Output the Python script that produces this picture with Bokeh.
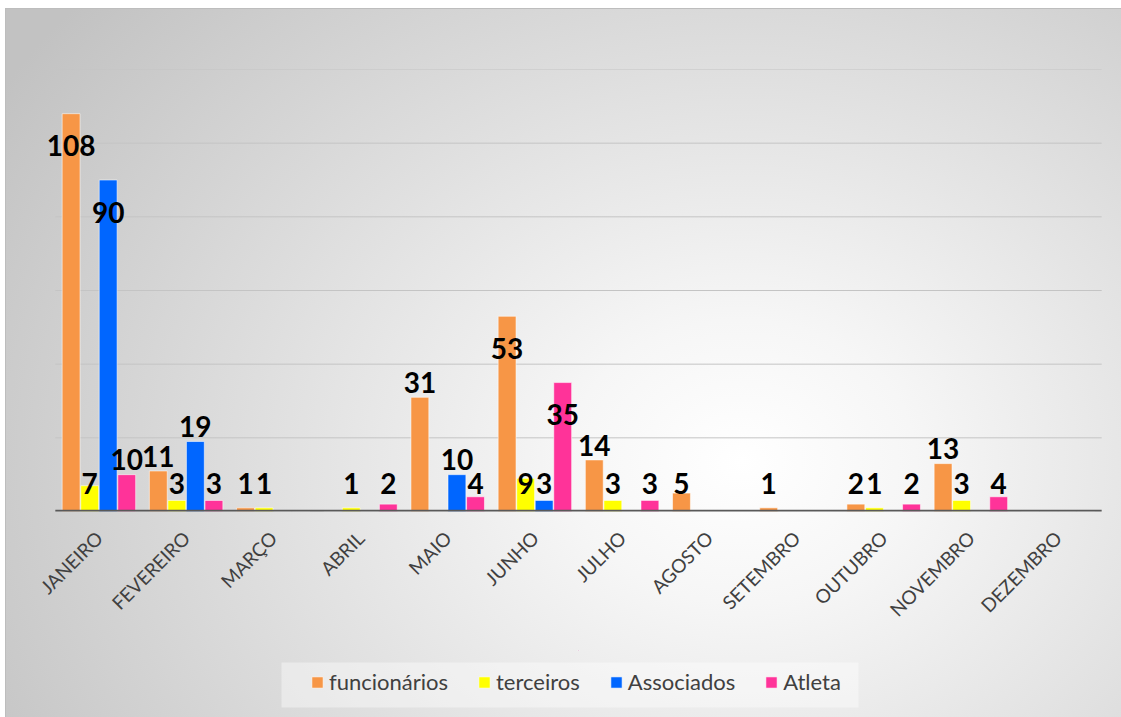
from bokeh.plotting import figure
from bokeh.layouts import column
from bokeh.models import (ColumnDataSource, FactorRange, Range1d,
                          Legend, LegendItem, InlineStyleSheet, LabelSet)
from bokeh.transform import dodge
from bokeh.core.properties import value
from bokeh.embed import file_html
from bokeh.resources import INLINE
import math

months = ["JANEIRO", "FEVEREIRO", "MARÇO", "ABRIL", "MAIO", "JUNHO",
          "JULHO", "AGOSTO", "SETEMBRO", "OUTUBRO", "NOVEMBRO", "DEZEMBRO"]
funcionarios = [108, 11, 1, 0, 31, 53, 14, 5, 1, 2, 13, 0]
terceiros = [7, 3, 1, 1, 0, 9, 3, 0, 0, 1, 3, 0]
associados = [90, 19, 0, 0, 10, 3, 0, 0, 0, 0, 0, 0]
atleta = [10, 3, 0, 2, 4, 35, 3, 0, 0, 2, 4, 0]
grid_values = [20, 40, 60, 80, 100, 120]

series_names = ["funcionários", "terceiros", "Associados", "Atleta"]
series_vals = [funcionarios, terceiros, associados, atleta]
colors = ["#F79646", "#FFFF00", "#0066FF", "#FF3399"]
offsets = [-0.319, -0.106, 0.106, 0.319]
bar_w = 0.205

FONT = "Lato"
W = 1121
H1 = 650
H2 = 67
BL, BR = 40, 5
PAD = 0.17  # category units of extra room at both ends of the x range


def label_y(v):
    # tall bars: label inside the bar top; medium: just above; small: common row
    if v >= 35:
        return v - 8.7
    if v >= 10:
        return v + 4
    return 7.6


p = figure(x_range=FactorRange(*months, range_padding=PAD, range_padding_units="absolute"),
           y_range=Range1d(0, 120),
           width=W, height=H1, output_backend="svg", toolbar_location=None,
           min_border_left=BL, min_border_right=BR, min_border_top=69,
           min_border_bottom=H1 - 511)
p.border_fill_color = None
p.background_fill_color = None
p.outline_line_color = None

p.yaxis.visible = False
p.grid.visible = False

first, last = months[0], months[-1]
gsrc = ColumnDataSource(dict(x0=[first] * len(grid_values), x1=[last] * len(grid_values),
                             y=grid_values))
p.segment(x0=dodge("x0", -0.5, range=p.x_range), x1=dodge("x1", 0.5, range=p.x_range),
          y0="y", y1="y", source=gsrc, line_color="#c4c4c4", line_width=1)

p.xaxis.axis_line_color = None
p.xaxis.major_tick_line_color = None
p.xaxis.minor_tick_line_color = None
p.xaxis.major_label_orientation = math.pi / 4
p.xaxis.major_label_text_font = FONT
p.xaxis.major_label_text_font_size = "19px"
p.xaxis.major_label_text_color = "#404040"
p.xaxis.major_label_standoff = 17

for name, vals, col, off in zip(series_names, series_vals, colors, offsets):
    lab_y = [label_y(v) for v in vals]
    labels = [str(v) if v > 0 else "" for v in vals]
    src = ColumnDataSource(dict(month=months, v=vals, ly=lab_y, lab=labels))
    p.vbar(x=dodge("month", off, range=p.x_range), top="v", width=bar_w,
           source=src, fill_color=col, line_color="white", line_alpha=0.55,
           line_width=1)
    ls = LabelSet(x=dodge("month", off, range=p.x_range), y="ly", text="lab", source=src,
                  text_font=value(FONT), text_font_style="bold", text_font_size="28px",
                  text_color="black", text_align="center", text_baseline="middle")
    p.add_layout(ls)

bsrc = ColumnDataSource(dict(x0=[first], x1=[last], y=[0]))
p.segment(x0=dodge("x0", -0.5, range=p.x_range), x1=dodge("x1", 0.5, range=p.x_range),
          y0="y", y1="y", source=bsrc, line_color="#595959", line_width=3.5)

# legend strip (1 data unit = 1 pixel)
FW = W - BL - BR
p2 = figure(x_range=Range1d(0, FW), y_range=Range1d(0, H2), width=W, height=H2,
            output_backend="svg", toolbar_location=None,
            x_axis_type=None, y_axis_type=None,
            min_border_left=BL, min_border_right=BR, min_border_top=0, min_border_bottom=0)
p2.border_fill_color = None
p2.background_fill_color = None
p2.outline_line_color = None
p2.grid.visible = False
p2.quad(left=[281 - BL], right=[858 - BL], bottom=[10], top=[55],
        fill_color="white", fill_alpha=0.4, line_color=None)
items = []
for name, col in zip(series_names, colors):
    r = p2.vbar(x=[FW / 2], bottom=[H2 + 100], top=[H2 + 101], width=1, fill_color=col,
                line_color="white", line_alpha=0.55, line_width=1)
    items.append(LegendItem(label=name, renderers=[r]))

legend = Legend(items=items, orientation="horizontal", location=(310 - BL, 22))
legend.label_text_font = FONT
legend.label_text_font_size = "22px"
legend.label_text_color = "#404040"
legend.label_height = 22
legend.glyph_width = 14
legend.glyph_height = 14
legend.label_standoff = 5
legend.spacing = 29
legend.padding = 0
legend.margin = 0
legend.background_fill_alpha = 0
legend.border_line_color = None
p2.add_layout(legend, "center")

css = """:host {
  background:
    linear-gradient(#bdbdbd, #bdbdbd) 5px 8px / 100% 1px no-repeat,
    linear-gradient(#bdbdbd, #bdbdbd) 5px 8px / 1px 100% no-repeat,
    radial-gradient(ellipse 78% 100% at 66% 64%, #ffffff 0%, #f6f6f6 20%, #c2c2c2 100%) 5px 8px / calc(100% - 5px) calc(100% - 8px) no-repeat,
    #ffffff;
}"""
layout = column(p, p2, spacing=0, stylesheets=[InlineStyleSheet(css=css)])

open("out.html", "w").write(file_html(layout, INLINE))
